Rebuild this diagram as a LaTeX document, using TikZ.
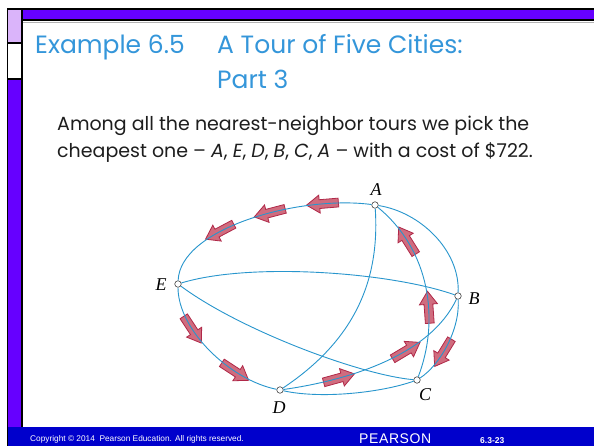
\documentclass[tikz,border=0pt]{standalone}
\usepackage{fontspec}
\usetikzlibrary{decorations.markings}
\newfontfamily\gothic{Poppins}
\newfontfamily\labfont{Liberation Serif}
\newfontfamily\footfont{Liberation Sans}
\definecolor{barpurple}{RGB}{102,0,255}
\definecolor{lavender}{RGB}{218,180,250}
\definecolor{footblue}{RGB}{0,0,204}
\definecolor{titleblue}{RGB}{52,150,218}
\definecolor{edgeblue}{RGB}{40,150,205}
\definecolor{arrfill}{RGB}{208,108,126}
\definecolor{arrdraw}{RGB}{176,40,72}
\definecolor{textgray}{RGB}{30,30,30}
\newcommand\blockarr{\draw[fill=arrfill,draw=arrdraw,line width=0.8pt,line join=miter] (-16,-4.4) -- (3,-4.4) -- (3,-9) -- (16,0) -- (3,9) -- (3,4.4) -- (-16,4.4) -- cycle;}
\tikzset{
  city/.style={circle,draw=black!75,fill=white,inner sep=0pt,minimum size=6.5pt,line width=0.6pt},
  edge/.style={draw=edgeblue,line width=0.9pt},
  lab/.style={font=\labfont\itshape\fontsize{18}{18}\selectfont,inner sep=0pt},
  titletext/.style={font=\gothic\fontsize{25}{25}\selectfont,text=titleblue,inner sep=0pt,anchor=base west},
  bodytext/.style={font=\gothic\fontsize{19}{19}\selectfont,text=textgray,inner sep=0pt,anchor=base west},
}
\begin{document}
\begin{tikzpicture}[x=1pt,y=-1pt]
\useasboundingbox (0,0) rectangle (594,446);
\fill[white] (0,0) rectangle (594,446);
% frame
\fill[black] (6.5,8.5) rectangle (594,21.5);
\fill[black] (6.5,8.5) rectangle (23,446);
\fill[barpurple] (23,10.5) rectangle (594,19.5);
\fill[lavender] (8,10.5) rectangle (21,42);
\fill[white] (8,44) rectangle (21,78);
\fill[barpurple] (8,80) rectangle (21,427);
\draw[black!30,line width=0.5pt] (23,22.3) -- (594,22.3);
\fill[footblue] (7.5,427) rectangle (594,446);
% title
\node[titletext] (t1) at (35,54) {Example 6.5};
\node[titletext] (t2) at (217,54) {A Tour of Five Cities:};
\node[titletext] (t3) at (217,89) {Part 3};
% body
\node[bodytext] (b1) at (57,131) {Among all the nearest-neighbor tours we pick the};
\node[bodytext] (b2) at (57,158) {cheapest one – \textit{A}, \textit{E}, \textit{D}, \textit{B}, \textit{C}, \textit{A} – with a cost of \$722.};
% footer
\node[font=\footfont\fontsize{8.3}{9}\selectfont,text=white,anchor=base west,inner sep=0pt] (f1) at (30,441) {Copyright \textcopyright{} 2014\ \ Pearson Education. All rights reserved.};
\node[font=\footfont\fontsize{14}{14}\selectfont,text=white,anchor=base west,inner sep=0pt] (f2) at (359,443.5) {P\kern0.6pt E\kern0.6pt A\kern0.6pt R\kern0.6pt S\kern0.6pt O\kern0.6pt N};
\node[font=\footfont\bfseries\fontsize{8.5}{8.5}\selectfont,text=white,anchor=base west,inner sep=0pt] (f3) at (480,443.5) {6.3-23};
% cities
\node[city] (A) at (375,205) {};
\node[city] (B) at (458,296) {};
\node[city] (C) at (417,380) {};
\node[city] (D) at (280,390) {};
\node[city] (E) at (178,284) {};
\node[lab] (lA) at (376,190) {A};
\node[lab] (lB) at (474,299) {B};
\node[lab] (lC) at (425,395) {C};
\node[lab] (lD) at (279,408) {D};
\node[lab] (lE) at (161,285) {E};
% edges without arrows
\draw[edge] (D) .. controls (320,399) and (380,393) .. (C);
\draw[edge] (A) .. controls (420,212) and (460,250) .. (B);
\draw[edge] (A) .. controls (380,280) and (355,340) .. (D);
\draw[edge] (E) .. controls (250,262) and (390,272) .. (B);
\draw[edge] (E) .. controls (240,330) and (360,375) .. (C);
% tour edges with arrows
\draw[edge,preaction={decorate,decoration={markings,
   mark=at position 0.22 with {\blockarr},
   mark=at position 0.46 with {\blockarr},
   mark=at position 0.70 with {\blockarr}}}]
  (A) .. controls (300,195) and (180,228) .. (E);
\draw[edge,preaction={decorate,decoration={markings,
   mark=at position 0.30 with {\blockarr},
   mark=at position 0.70 with {\blockarr}}}]
  (E) .. controls (178,330) and (230,380) .. (D);
\draw[edge,preaction={decorate,decoration={markings,
   mark=at position 0.28 with {\blockarr},
   mark=at position 0.64 with {\blockarr}}}]
  (D) .. controls (350,380) and (430,355) .. (B);
\draw[edge,preaction={decorate,decoration={markings,
   mark=at position 0.62 with {\blockarr}}}]
  (B) .. controls (460,330) and (440,365) .. (C);
\draw[edge,preaction={decorate,decoration={markings,
   mark=at position 0.38 with {\blockarr},
   mark=at position 0.76 with {\blockarr}}}]
  (C) .. controls (440,320) and (430,250) .. (A);
\end{tikzpicture}
\end{document}
